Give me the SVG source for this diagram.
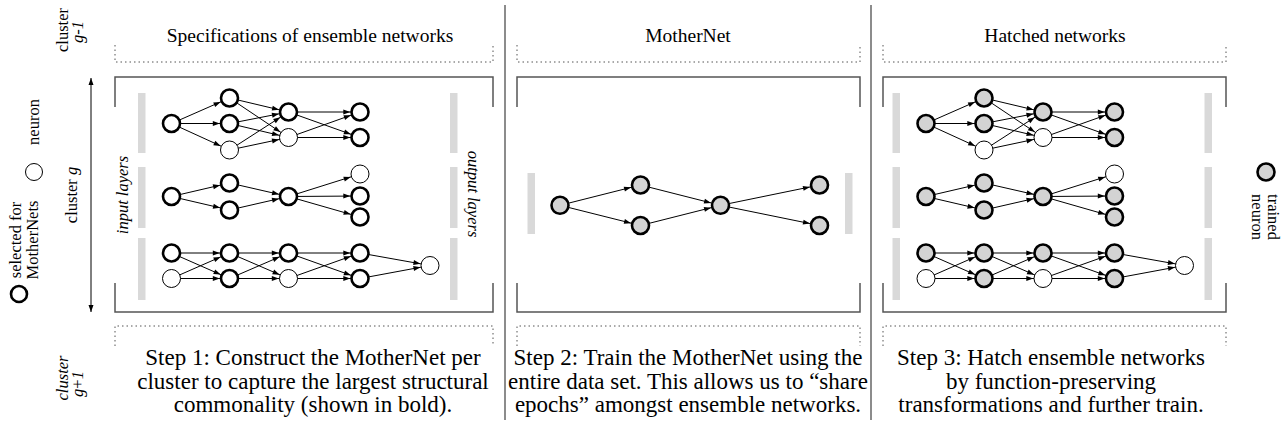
<svg xmlns="http://www.w3.org/2000/svg" width="1284" height="430" viewBox="0 0 1284 430">
<style>
text{font-family:"Liberation Serif","Times New Roman",serif;fill:#000}
.ttl{font-size:19.5px;text-anchor:middle}
.cap{font-size:23px;text-anchor:middle}
.lg{font-size:16.5px;text-anchor:middle}
.it{font-style:italic}
.b{fill:#fff;stroke:#000;stroke-width:2.6}
.t{fill:#fff;stroke:#000;stroke-width:1}
.g{fill:#d3d3d3;stroke:#000;stroke-width:2.6}
.bar{fill:#d9d9d9}
.brk{fill:none;stroke:#555;stroke-width:1.5}
.dot{fill:none;stroke:#555;stroke-width:1;stroke-dasharray:1.5 3}
.sep{stroke:#666;stroke-width:1.5}
#edges line{stroke:#000;stroke-width:1;marker-end:url(#ah)}
</style>
<defs>
<marker id="ah" markerUnits="userSpaceOnUse" markerWidth="8" markerHeight="6" refX="16.7" refY="2.5" orient="auto" overflow="visible">
<path d="M0,0 L7,2.5 L0,5 z" fill="#000"/>
</marker>
<marker id="ah2" markerUnits="userSpaceOnUse" markerWidth="8" markerHeight="6" refX="7" refY="2.5" orient="auto-start-reverse" overflow="visible">
<path d="M0,0 L7,2.5 L0,5 z" fill="#000"/>
</marker>
</defs>
<rect width="1284" height="430" fill="#fff"/>

<!-- left legend -->
<g id="legend-left">
<circle cx="19" cy="294" r="8" class="b"/>
<text class="lg" transform="translate(21,240) rotate(-90)">selected for</text>
<text class="lg" transform="translate(38,240) rotate(-90)">MotherNets</text>
<circle cx="34" cy="172" r="8.5" class="t"/>
<text class="lg" transform="translate(39,122) rotate(-90)">neuron</text>
</g>
<g id="cluster-labels">
<text class="lg" transform="translate(68,30) rotate(-90)">cluster</text>
<text class="lg it" transform="translate(83,32) rotate(-90)">g-1</text>
<text class="lg" transform="translate(77,195) rotate(-90)">cluster <tspan class="it">g</tspan></text>
<line x1="91" y1="78" x2="91" y2="312" stroke="#000" stroke-width="1" marker-start="url(#ah2)" marker-end="url(#ah2)"/>
<text class="lg it" transform="translate(68,378) rotate(-90)">cluster</text>
<text class="lg" transform="translate(83,384) rotate(-90)"><tspan class="it">g</tspan>+<tspan class="it">1</tspan></text>
</g>

<!-- separators -->
<line class="sep" x1="505" y1="5" x2="505" y2="420"/>
<line class="sep" x1="871" y1="5" x2="871" y2="420"/>

<!-- panel frames -->
<g id="frames">
<path class="dot" d="M115,45 V62 H493 V45"/>
<path class="brk" d="M115,107 V77 H493 V107"/>
<path class="brk" d="M115,283 V312 H493 V283"/>
<path class="dot" d="M115,346 V326 H493 V346"/>
<path class="dot" d="M517,45 V62 H860 V45"/>
<path class="brk" d="M517,107 V77 H860 V107"/>
<path class="brk" d="M517,283 V312 H860 V283"/>
<path class="dot" d="M517,346 V326 H860 V346"/>
<path class="dot" d="M883,45 V62 H1226 V45"/>
<path class="brk" d="M883,107 V77 H1226 V107"/>
<path class="brk" d="M883,283 V312 H1226 V283"/>
<path class="dot" d="M883,346 V326 H1226 V346"/>
</g>

<g id="titles">
<text class="ttl" x="310" y="42">Specifications of ensemble networks</text>
<text class="ttl" x="688" y="42">MotherNet</text>
<text class="ttl" x="1055" y="42">Hatched networks</text>
</g>

<!-- layer bars -->
<g id="bars">
<rect class="bar" x="138" y="93" width="7.5" height="60"/>
<rect class="bar" x="138" y="167" width="7.5" height="61"/>
<rect class="bar" x="138" y="238" width="7.5" height="62"/>
<rect class="bar" x="450" y="93" width="7.5" height="60"/>
<rect class="bar" x="450" y="167" width="7.5" height="61"/>
<rect class="bar" x="450" y="238" width="7.5" height="62"/>
<rect class="bar" x="527.5" y="173" width="7.5" height="61"/>
<rect class="bar" x="845" y="173" width="7.5" height="61"/>
<rect class="bar" x="892.5" y="93" width="7.5" height="60"/>
<rect class="bar" x="892.5" y="167" width="7.5" height="61"/>
<rect class="bar" x="892.5" y="238" width="7.5" height="62"/>
<rect class="bar" x="1204.5" y="93" width="7.5" height="60"/>
<rect class="bar" x="1204.5" y="167" width="7.5" height="61"/>
<rect class="bar" x="1204.5" y="238" width="7.5" height="62"/>
</g>
<g id="layer-labels">
<text class="lg it" transform="translate(128,195) rotate(-90)">input layers</text>
<text class="lg it" transform="translate(468,194) rotate(90)">output layers</text>
</g>

<g id="edges">
<!-- panel 1 net A -->
<line x1="171.5" y1="123.5" x2="229.5" y2="98"/>
<line x1="171.5" y1="123.5" x2="229.5" y2="123.5"/>
<line x1="171.5" y1="123.5" x2="229.5" y2="150"/>
<line x1="229.5" y1="98" x2="288.5" y2="112"/>
<line x1="229.5" y1="98" x2="288.5" y2="137.5"/>
<line x1="229.5" y1="123.5" x2="288.5" y2="112"/>
<line x1="229.5" y1="123.5" x2="288.5" y2="137.5"/>
<line x1="229.5" y1="150" x2="288.5" y2="112"/>
<line x1="229.5" y1="150" x2="288.5" y2="137.5"/>
<line x1="288.5" y1="112" x2="360" y2="112"/>
<line x1="288.5" y1="112" x2="360" y2="137.5"/>
<line x1="288.5" y1="137.5" x2="360" y2="112"/>
<line x1="288.5" y1="137.5" x2="360" y2="137.5"/>
<!-- panel 1 net B -->
<line x1="171.5" y1="196.5" x2="229.5" y2="183"/>
<line x1="171.5" y1="196.5" x2="229.5" y2="210"/>
<line x1="229.5" y1="183" x2="288.5" y2="196.5"/>
<line x1="229.5" y1="210" x2="288.5" y2="196.5"/>
<line x1="288.5" y1="196.5" x2="360" y2="174"/>
<line x1="288.5" y1="196.5" x2="360" y2="196"/>
<line x1="288.5" y1="196.5" x2="360" y2="217"/>
<!-- panel 1 net C -->
<line x1="171.5" y1="253" x2="229.5" y2="253"/>
<line x1="171.5" y1="253" x2="229.5" y2="278.5"/>
<line x1="171.5" y1="278.5" x2="229.5" y2="253"/>
<line x1="171.5" y1="278.5" x2="229.5" y2="278.5"/>
<line x1="229.5" y1="253" x2="288.5" y2="253"/>
<line x1="229.5" y1="253" x2="288.5" y2="278.5"/>
<line x1="229.5" y1="278.5" x2="288.5" y2="253"/>
<line x1="229.5" y1="278.5" x2="288.5" y2="278.5"/>
<line x1="288.5" y1="253" x2="360" y2="253"/>
<line x1="288.5" y1="253" x2="360" y2="278.5"/>
<line x1="288.5" y1="278.5" x2="360" y2="253"/>
<line x1="288.5" y1="278.5" x2="360" y2="278.5"/>
<line x1="360" y1="253" x2="430" y2="265.5"/>
<line x1="360" y1="278.5" x2="430" y2="265.5"/>
<!-- panel 2 -->
<line x1="560" y1="205.3" x2="640.5" y2="185"/>
<line x1="560" y1="205.3" x2="640.5" y2="225.5"/>
<line x1="640.5" y1="185" x2="720.5" y2="205.3"/>
<line x1="640.5" y1="225.5" x2="720.5" y2="205.3"/>
<line x1="720.5" y1="205.3" x2="819.5" y2="185"/>
<line x1="720.5" y1="205.3" x2="819.5" y2="225.5"/>
<!-- panel 3 net A -->
<line x1="926" y1="123.5" x2="984" y2="98"/>
<line x1="926" y1="123.5" x2="984" y2="123.5"/>
<line x1="926" y1="123.5" x2="984" y2="150"/>
<line x1="984" y1="98" x2="1043" y2="112"/>
<line x1="984" y1="98" x2="1043" y2="137.5"/>
<line x1="984" y1="123.5" x2="1043" y2="112"/>
<line x1="984" y1="123.5" x2="1043" y2="137.5"/>
<line x1="984" y1="150" x2="1043" y2="112"/>
<line x1="984" y1="150" x2="1043" y2="137.5"/>
<line x1="1043" y1="112" x2="1114.5" y2="112"/>
<line x1="1043" y1="112" x2="1114.5" y2="137.5"/>
<line x1="1043" y1="137.5" x2="1114.5" y2="112"/>
<line x1="1043" y1="137.5" x2="1114.5" y2="137.5"/>
<!-- panel 3 net B -->
<line x1="926" y1="196.5" x2="984" y2="183"/>
<line x1="926" y1="196.5" x2="984" y2="210"/>
<line x1="984" y1="183" x2="1043" y2="196.5"/>
<line x1="984" y1="210" x2="1043" y2="196.5"/>
<line x1="1043" y1="196.5" x2="1114.5" y2="174"/>
<line x1="1043" y1="196.5" x2="1114.5" y2="196"/>
<line x1="1043" y1="196.5" x2="1114.5" y2="217"/>
<!-- panel 3 net C -->
<line x1="926" y1="253" x2="984" y2="253"/>
<line x1="926" y1="253" x2="984" y2="278.5"/>
<line x1="926" y1="278.5" x2="984" y2="253"/>
<line x1="926" y1="278.5" x2="984" y2="278.5"/>
<line x1="984" y1="253" x2="1043" y2="253"/>
<line x1="984" y1="253" x2="1043" y2="278.5"/>
<line x1="984" y1="278.5" x2="1043" y2="253"/>
<line x1="984" y1="278.5" x2="1043" y2="278.5"/>
<line x1="1043" y1="253" x2="1114.5" y2="253"/>
<line x1="1043" y1="253" x2="1114.5" y2="278.5"/>
<line x1="1043" y1="278.5" x2="1114.5" y2="253"/>
<line x1="1043" y1="278.5" x2="1114.5" y2="278.5"/>
<line x1="1114.5" y1="253" x2="1184.5" y2="265.5"/>
<line x1="1114.5" y1="278.5" x2="1184.5" y2="265.5"/>
</g>

<!-- panel 1 nodes -->
<g id="p1a-i"><circle cx="171.5" cy="123.5" r="8.5" class="b"/></g>
<g id="p1a-h1a"><circle cx="229.5" cy="98" r="8.5" class="b"/></g>
<g id="p1a-h1b"><circle cx="229.5" cy="123.5" r="8.5" class="b"/></g>
<g id="p1a-h1c"><circle cx="229.5" cy="150" r="9" class="t"/></g>
<g id="p1a-h2a"><circle cx="288.5" cy="112" r="8.5" class="b"/></g>
<g id="p1a-h2b"><circle cx="288.5" cy="137.5" r="9" class="t"/></g>
<g id="p1a-oa"><circle cx="360" cy="112" r="8.5" class="b"/></g>
<g id="p1a-ob"><circle cx="360" cy="137.5" r="8.5" class="b"/></g>
<g id="p1b-i"><circle cx="171.5" cy="196.5" r="8.5" class="b"/></g>
<g id="p1b-h1a"><circle cx="229.5" cy="183" r="8.5" class="b"/></g>
<g id="p1b-h1b"><circle cx="229.5" cy="210" r="8.5" class="b"/></g>
<g id="p1b-h2"><circle cx="288.5" cy="196.5" r="8.5" class="b"/></g>
<g id="p1b-oa"><circle cx="360" cy="174" r="9" class="t"/></g>
<g id="p1b-ob"><circle cx="360" cy="196" r="8.5" class="b"/></g>
<g id="p1b-oc"><circle cx="360" cy="217" r="8.5" class="b"/></g>
<g id="p1c-ia"><circle cx="171.5" cy="253" r="8.5" class="b"/></g>
<g id="p1c-ib"><circle cx="171.5" cy="278.5" r="9" class="t"/></g>
<g id="p1c-h1a"><circle cx="229.5" cy="253" r="8.5" class="b"/></g>
<g id="p1c-h1b"><circle cx="229.5" cy="278.5" r="8.5" class="b"/></g>
<g id="p1c-h2a"><circle cx="288.5" cy="253" r="8.5" class="b"/></g>
<g id="p1c-h2b"><circle cx="288.5" cy="278.5" r="9" class="t"/></g>
<g id="p1c-h3a"><circle cx="360" cy="253" r="8.5" class="b"/></g>
<g id="p1c-h3b"><circle cx="360" cy="278.5" r="8.5" class="b"/></g>
<g id="p1c-o"><circle cx="430" cy="265.5" r="9" class="t"/></g>

<!-- panel 2 nodes -->
<g id="p2-i"><circle cx="560" cy="205.3" r="8.5" class="g"/></g>
<g id="p2-h1a"><circle cx="640.5" cy="185" r="8.5" class="g"/></g>
<g id="p2-h1b"><circle cx="640.5" cy="225.5" r="8.5" class="g"/></g>
<g id="p2-h2"><circle cx="720.5" cy="205.3" r="8.5" class="g"/></g>
<g id="p2-oa"><circle cx="819.5" cy="185" r="8.5" class="g"/></g>
<g id="p2-ob"><circle cx="819.5" cy="225.5" r="8.5" class="g"/></g>

<!-- panel 3 nodes -->
<g id="p3a-i"><circle cx="926" cy="123.5" r="8.5" class="g"/></g>
<g id="p3a-h1a"><circle cx="984" cy="98" r="8.5" class="g"/></g>
<g id="p3a-h1b"><circle cx="984" cy="123.5" r="8.5" class="g"/></g>
<g id="p3a-h1c"><circle cx="984" cy="150" r="9" class="t"/></g>
<g id="p3a-h2a"><circle cx="1043" cy="112" r="8.5" class="g"/></g>
<g id="p3a-h2b"><circle cx="1043" cy="137.5" r="9" class="t"/></g>
<g id="p3a-oa"><circle cx="1114.5" cy="112" r="8.5" class="g"/></g>
<g id="p3a-ob"><circle cx="1114.5" cy="137.5" r="8.5" class="g"/></g>
<g id="p3b-i"><circle cx="926" cy="196.5" r="8.5" class="g"/></g>
<g id="p3b-h1a"><circle cx="984" cy="183" r="8.5" class="g"/></g>
<g id="p3b-h1b"><circle cx="984" cy="210" r="8.5" class="g"/></g>
<g id="p3b-h2"><circle cx="1043" cy="196.5" r="8.5" class="g"/></g>
<g id="p3b-oa"><circle cx="1114.5" cy="174" r="9" class="t"/></g>
<g id="p3b-ob"><circle cx="1114.5" cy="196" r="8.5" class="g"/></g>
<g id="p3b-oc"><circle cx="1114.5" cy="217" r="8.5" class="g"/></g>
<g id="p3c-ia"><circle cx="926" cy="253" r="8.5" class="g"/></g>
<g id="p3c-ib"><circle cx="926" cy="278.5" r="9" class="t"/></g>
<g id="p3c-h1a"><circle cx="984" cy="253" r="8.5" class="g"/></g>
<g id="p3c-h1b"><circle cx="984" cy="278.5" r="8.5" class="g"/></g>
<g id="p3c-h2a"><circle cx="1043" cy="253" r="8.5" class="g"/></g>
<g id="p3c-h2b"><circle cx="1043" cy="278.5" r="9" class="t"/></g>
<g id="p3c-h3a"><circle cx="1114.5" cy="253" r="8.5" class="g"/></g>
<g id="p3c-h3b"><circle cx="1114.5" cy="278.5" r="8.5" class="g"/></g>
<g id="p3c-o"><circle cx="1184.5" cy="265.5" r="9" class="t"/></g>

<!-- right legend -->
<g id="legend-right">
<circle cx="1266" cy="172" r="8.5" class="g"/>
<text class="lg" transform="translate(1268,217) rotate(90)">trained</text>
<text class="lg" transform="translate(1252,217) rotate(90)">neuron</text>
</g>

<!-- captions -->
<g id="captions">
<text class="cap" x="313" y="365">Step 1: Construct the MotherNet per</text>
<text class="cap" x="313" y="389">cluster to capture the largest structural</text>
<text class="cap" x="313" y="412">commonality (shown in bold).</text>
<text class="cap" x="688" y="365">Step 2: Train the MotherNet using the</text>
<text class="cap" x="688" y="389">entire data set. This allows us to “share</text>
<text class="cap" x="688" y="412">epochs” amongst ensemble networks.</text>
<text class="cap" x="1051" y="365">Step 3: Hatch ensemble networks</text>
<text class="cap" x="1051" y="389">by function-preserving</text>
<text class="cap" x="1051" y="412">transformations and further train.</text>
</g>
</svg>
